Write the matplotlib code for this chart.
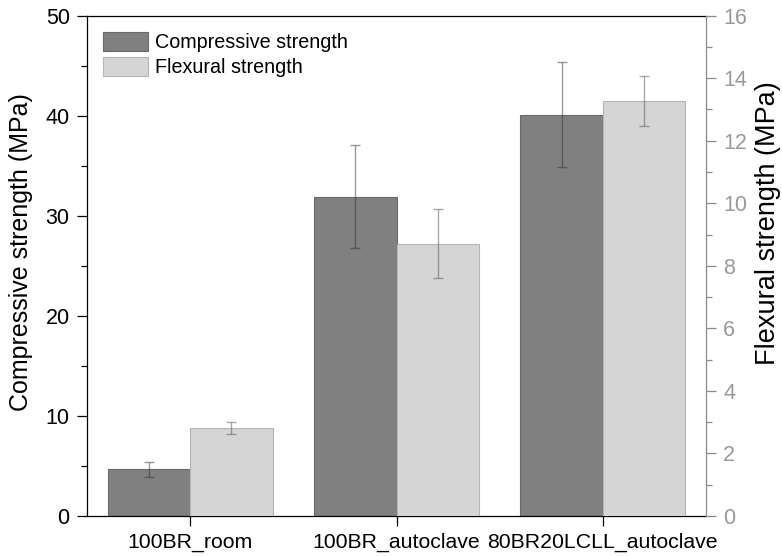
import matplotlib
matplotlib.use('Agg')
import matplotlib.pyplot as plt
from matplotlib.patches import Patch
import numpy as np

plt.rcParams['font.family'] = ['Liberation Sans', 'DejaVu Sans']

# data
samples = ['100BR_room', '100BR_autoclave', '80BR20LCLL_autoclave']
comp_mean = [4.65, 31.9, 40.1]      # MPa, left axis
comp_err = [0.72, 5.15, 5.25]
flex_mean = [2.81, 8.70, 13.28]     # MPa, right axis
flex_err = [0.20, 1.10, 0.80]

x = np.arange(len(samples))
w = 0.40

fig = plt.figure(figsize=(7.82, 5.56), dpi=100)
ax1 = fig.add_axes([0.1113, 0.0719, 0.7915, 0.9001])
ax2 = ax1.twinx()

# compressive bars (left of each tick)
ax1.bar(x - w / 2, comp_mean, w, color='#808080', edgecolor='#6a6a6a', linewidth=0.8, zorder=2)
ax1.errorbar(x - w / 2, comp_mean, yerr=comp_err, fmt='none', ecolor='#333333', alpha=0.5,
             elinewidth=1.0, capsize=3.6, capthick=1.0, zorder=3)

# flexural bars (right of each tick)
ax2.bar(x + w / 2, flex_mean, w, color='#d5d5d5', edgecolor='#b5b5b5', linewidth=0.8, zorder=2)
ax2.errorbar(x + w / 2, flex_mean, yerr=flex_err, fmt='none', ecolor='#555555', alpha=0.5,
             elinewidth=1.0, capsize=3.6, capthick=1.0, zorder=3)

# left axis
ax1.set_xlim(-0.5, 2.5)
ax1.set_ylim(0, 50)
ax1.set_yticks(np.arange(0, 51, 10))
ax1.set_yticks(np.arange(5, 50, 10), minor=True)
ax1.set_xticks(x)
ax1.set_xticklabels(samples)
ax1.tick_params(axis='y', which='major', direction='out', length=7.5, width=0.9, labelsize=15.5, pad=5)
ax1.tick_params(axis='y', which='minor', direction='out', length=4, width=0.9)
ax1.tick_params(axis='x', direction='out', length=7, width=0.9, labelsize=15.3, pad=5)
ax1.set_ylabel('Compressive strength (MPa)', fontsize=18)
ax1.yaxis.set_label_coords(-0.087, 0.527)
for s in ['left', 'bottom', 'top']:
    ax1.spines[s].set_linewidth(0.9)
    ax1.spines[s].set_color('black')
ax1.spines['right'].set_visible(False)

# right axis
ax2.set_ylim(0, 16)
ax2.set_yticks(np.arange(0, 17, 2))
ax2.set_yticks(np.arange(1, 16, 2), minor=True)
ax2.tick_params(axis='y', which='major', direction='out', length=7.5, width=0.9, pad=5,
                colors='#8c8c8c', labelcolor='#9a9a9a', labelsize=15.5)
ax2.tick_params(axis='y', which='minor', direction='out', length=4, width=0.9, colors='#8c8c8c')
ax2.set_ylabel('Flexural strength (MPa)', fontsize=19.5)
ax2.yaxis.set_label_coords(1.079, 0.585)
ax2.spines['right'].set_color('#8c8c8c')
ax2.spines['right'].set_linewidth(0.9)
for s in ['left', 'bottom', 'top']:
    ax2.spines[s].set_visible(False)

# legend
handles = [Patch(facecolor='#808080', edgecolor='#6a6a6a', linewidth=0.8, label='Compressive strength'),
           Patch(facecolor='#d5d5d5', edgecolor='#b5b5b5', linewidth=0.8, label='Flexural strength')]
ax1.legend(handles=handles, loc='upper left', bbox_to_anchor=(0.026, 0.967), frameon=False,
           fontsize=14.2, handlelength=2.3, handleheight=1.1, handletextpad=0.35,
           labelspacing=0.25, borderpad=0, borderaxespad=0)

fig.savefig('out.png', dpi=100)
